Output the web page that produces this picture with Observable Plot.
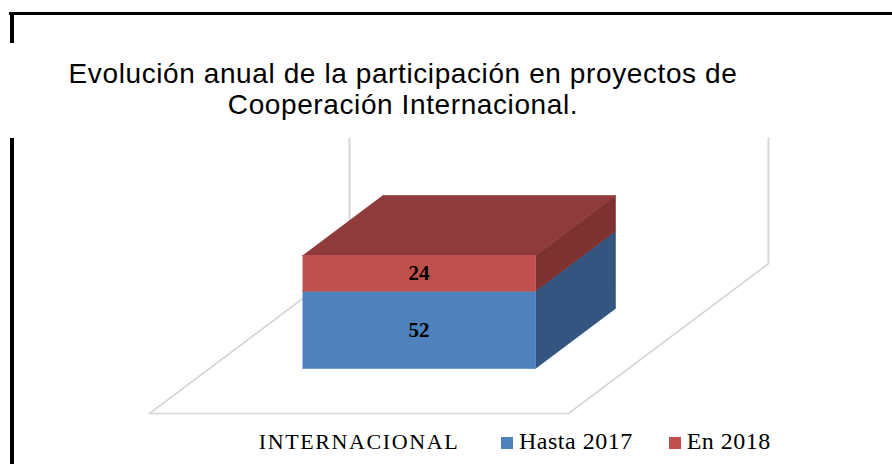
<!DOCTYPE html>
<html><head><meta charset="utf-8">
<script src="https://cdn.jsdelivr.net/npm/d3@7"></script>
<script src="https://cdn.jsdelivr.net/npm/@observablehq/plot@0.6"></script>
<style>
html,body{margin:0;padding:0;background:#fff;}
#wrap{position:relative;width:892px;height:464px;overflow:hidden;background:#fff;}
#chart{position:absolute;left:0;top:0;}
.bar{position:absolute;background:#000;}
#title{position:absolute;left:3px;width:800px;top:58px;text-align:center;font-family:"Liberation Sans",Arial,sans-serif;font-size:28px;line-height:31px;letter-spacing:0.6px;color:#000;}
#legend{position:absolute;left:501px;top:429px;display:flex;align-items:flex-start;font-family:"Liberation Serif",serif;font-size:24px;line-height:24px;letter-spacing:0.5px;color:#000;white-space:nowrap;}
#legend .item{display:flex;align-items:flex-start;margin-right:36px;}
#legend .sw{width:12px;height:12px;margin-top:8px;margin-right:6px;}
</style></head><body>
<div id="wrap">
  <div id="chart"></div>
  <div class="bar" style="left:9px;top:12px;width:883px;height:3px;"></div>
  <div class="bar" style="left:10px;top:12px;width:4px;height:31px;"></div>
  <div class="bar" style="left:10px;top:138px;width:4px;height:326px;"></div>
  <div id="title"></div>
  <div id="legend"></div>
</div>
<script>
// ---- data ----
const categories = ["INTERNACIONAL"];
const seriesNames = ["Hasta 2017", "En 2018"];
const hasta2017 = [52];
const en2018 = [24];
const frontColors = ["#4F81BD", "#C0504D"];
const sideColors = ["#33557F", "#7D3231"];
const topColors = ["#3F6797", "#8F3B3B"];
const titleLines = ["Evolución anual de la participación en proyectos de", "Cooperación Internacional."];
const wallTop = 84;

// ---- projection (oblique 3D) ----
const K = 1.487;                // px per value unit
const xRange = [149, 568];
const depthPx = [200, 150];
const DX = depthPx[0] / (xRange[1] - xRange[0]);
const DY = depthPx[1] / K;
const P = (u, v, d) => ({x: u + d * DX, y: v + d * DY});
const d0 = 0.3, d1 = 0.7;       // bar depth span
const pad = 0.222;              // bar inset in band

const seriesValues = [hasta2017, en2018];
const marks = [];

// floor + walls
const floor = [P(0, 0, 1), P(0, 0, 0), P(1, 0, 0), P(1, 0, 1)];
marks.push(Plot.line(floor, {x: "x", y: "y", stroke: "#d6d6d6", strokeWidth: 1.6}));
marks.push(Plot.line([P(0, 0, 1), P(0, wallTop, 1)], {x: "x", y: "y", stroke: "#dadada", strokeWidth: 2.2}));
marks.push(Plot.line([P(1, 0, 1), P(1, wallTop, 1)], {x: "x", y: "y", stroke: "#dadada", strokeWidth: 2.2}));

const fronts = [], labels = [];
categories.forEach((cat, ci) => {
  const u0 = ci + pad, u1 = ci + 1 - pad;
  let acc = 0;
  seriesValues.forEach((vals, si) => {
    const v0 = acc, v1 = acc + vals[ci];
    acc = v1;
    const side = [P(u1, v0, d0), P(u1, v0, d1), P(u1, v1, d1), P(u1, v1, d0)];
    marks.push(Plot.line(side, {x: "x", y: "y", fill: sideColors[si], stroke: sideColors[si], strokeWidth: 0.6}));
    if (si === seriesValues.length - 1) {
      const top = [P(u0, v1, d0), P(u1, v1, d0), P(u1, v1, d1), P(u0, v1, d1)];
      marks.push(Plot.line(top, {x: "x", y: "y", fill: topColors[si], stroke: topColors[si], strokeWidth: 0.6}));
    }
    const front = [P(u0, v0, d0), P(u1, v0, d0), P(u1, v1, d0), P(u0, v1, d0)];
    fronts.push(Plot.line(front, {x: "x", y: "y", fill: frontColors[si], stroke: frontColors[si], strokeWidth: 0.6}));
    const c = P((u0 + u1) / 2, (v0 + v1) / 2, d0);
    labels.push({x: c.x, y: c.y, text: String(vals[ci])});
  });
});
marks.push(...fronts);
marks.push(Plot.text(labels, {x: "x", y: "y", text: "text", fontFamily: "Liberation Serif", fontWeight: "bold", fontSize: 21, fill: "#000"}));
marks.push(Plot.text(categories.map((c, i) => ({x: i + 0.5, y: 0, text: c})), {x: "x", y: "y", text: "text", dy: 28, fontFamily: "Liberation Serif", fontSize: 22, fill: "#000"}));

const svg = Plot.plot({
  width: 892, height: 464,
  marginTop: 0, marginBottom: 0, marginLeft: 0, marginRight: 0,
  x: {type: "linear", domain: [0, 1], range: xRange, axis: null},
  y: {type: "linear", domain: [0, 100], range: [413, 413 - 100 * K], axis: null},
  style: {background: "transparent", overflow: "visible"},
  marks
});
svg.querySelectorAll("text").forEach(t => {
  if (categories.includes(t.textContent)) t.style.letterSpacing = "1.6px";
});
document.getElementById("chart").appendChild(svg);

document.getElementById("title").innerHTML = titleLines.join("<br>");
const lg = document.getElementById("legend");
seriesNames.forEach((n, i) => {
  const it = document.createElement("div"); it.className = "item";
  const sw = document.createElement("div"); sw.className = "sw"; sw.style.background = frontColors[i];
  const tx = document.createElement("span"); tx.textContent = n;
  it.appendChild(sw); it.appendChild(tx); lg.appendChild(it);
});
</script>
</body></html>
